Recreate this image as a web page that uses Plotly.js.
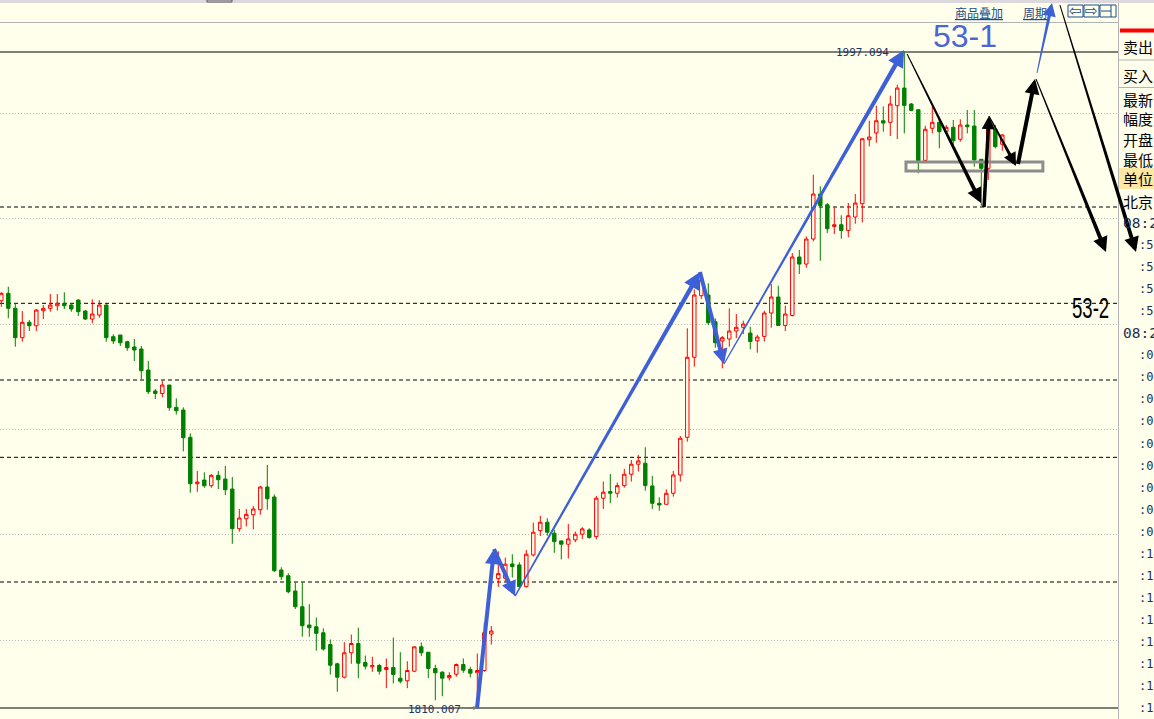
<!DOCTYPE html>
<html><head><meta charset="utf-8">
<script src="https://cdn.plot.ly/plotly-3.0.1.min.js"></script>
<style>html,body{margin:0;padding:0;background:#FFFFEC;overflow:hidden}#chart{width:1154px;height:719px}</style>
</head><body><div id="chart"></div>
<script>
// ---------- DATA ----------
const openP = [1926.16,1928.27,1923.99,1915.61,1920.00,1919.03,1923.31,1923.99,1924.73,1925.42,
1924.93,1926.36,1923.22,1920.94,1922.08,1924.93,1915.90,1916.38,1914.47,1912.96,
1912.39,1906.40,1900.41,1899.70,1902.12,1895.76,1894.99,1887.20,1873.97,1875.02,
1873.40,1876.36,1875.31,1872.46,1861.14,1863.99,1865.13,1866.56,1873.03,1870.18,
1849.36,1847.73,1843.37,1838.89,1833.67,1833.18,1831.47,1828.11,1822.61,1818.79,
1825.75,1828.40,1822.98,1821.76,1822.13,1820.99,1821.56,1818.51,1817.77,1820.50,
1827.46,1825.92,1821.27,1820.22,1818.62,1819.64,1822.41,1820.99,1820.05,1820.70,
1831.10,1846.90,1847.02,1851.09,1850.81,1844.62,1853.67,1860.60,1862.99,1859.86,
1857.66,1856.72,1857.95,1859.57,1860.80,1858.89,1869.84,1871.72,1871.26,1873.43,
1876.68,1879.53,1879.82,1873.34,1868.39,1868.10,1871.24,1876.46,1887.21,1910.03,
1927.59,1927.79,1920.17,1914.67,1915.24,1917.52,1918.57,1916.95,1914.75,1915.98,
1922.65,1927.21,1919.11,1921.96,1938.62,1936.62,1943.75,1956.59,1953.53,1947.35,
1947.83,1946.21,1950.03,1953.82,1972.07,1974.02,1977.49,1977.01,1981.77,1986.82,
1982.26,1980.64,1966.18,1975.33,1977.04,1974.36,1975.62,1972.20,1976.27,1975.99,
1966.49,1963.92,1975.13,1970.78];
const highP = [1928.56,1930.15,1925.42,1923.22,1920.66,1923.79,1924.93,1928.07,1928.07,1928.56,
1925.42,1926.56,1923.51,1926.56,1926.36,1925.13,1916.58,1916.38,1914.75,1915.24,
1913.24,1908.96,1900.98,1903.26,1902.12,1898.32,1895.76,1888.34,1877.59,1877.22,
1876.73,1877.59,1879.02,1875.88,1866.76,1866.76,1867.61,1873.32,1879.30,1870.95,
1850.13,1848.42,1845.85,1845.85,1839.61,1835.81,1832.73,1829.54,1822.90,1828.77,
1830.97,1832.90,1824.98,1824.61,1822.61,1824.13,1830.11,1825.92,1823.36,1827.46,
1828.68,1825.92,1822.33,1820.50,1820.22,1822.70,1824.13,1821.76,1825.55,1834.35,
1833.38,1854.69,1852.90,1853.87,1851.58,1855.09,1862.88,1864.79,1864.13,1860.88,
1857.75,1862.51,1860.31,1861.57,1861.28,1870.49,1874.57,1876.73,1874.29,1878.19,
1880.76,1882.18,1884.38,1876.16,1870.10,1872.38,1877.60,1887.59,1918.30,1929.41,
1932.55,1931.12,1921.14,1916.09,1923.99,1922.37,1920.46,1918.74,1916.46,1923.31,
1930.92,1930.44,1924.73,1939.76,1940.62,1944.49,1962.09,1958.77,1954.02,1952.77,
1950.51,1954.02,1956.59,1972.36,1977.49,1981.77,1981.57,1984.63,1987.76,1997.094,
1982.55,1980.64,1976.07,1981.49,1978.18,1976.27,1977.70,1977.90,1980.55,1980.55,
1966.57,1976.27,1976.27,1973.71];
const lowP = [1924.45,1921.14,1913.04,1914.47,1917.52,1917.52,1920.94,1923.02,1923.31,1923.79,
1923.02,1921.80,1920.66,1919.71,1921.31,1914.47,1913.81,1913.24,1911.90,1908.96,
1903.83,1899.56,1898.13,1898.61,1894.79,1893.71,1883.20,1871.40,1871.69,1872.83,
1872.83,1872.46,1870.72,1856.86,1860.28,1861.79,1860.94,1865.13,1866.56,1848.79,
1846.52,1842.71,1838.24,1830.33,1830.33,1826.37,1826.37,1819.55,1814.63,1818.42,
1822.61,1818.51,1820.99,1820.33,1819.55,1815.67,1817.02,1817.02,1815.67,1820.22,
1824.78,1818.51,1812.20,1813.34,1817.85,1818.93,1820.05,1818.73,1810.007,1820.33,
1828.11,1844.55,1846.06,1847.21,1844.62,1844.34,1853.18,1859.09,1859.17,1854.26,
1852.38,1852.66,1857.29,1858.23,1858.32,1858.15,1866.76,1868.39,1870.01,1872.86,
1874.57,1877.45,1872.00,1866.76,1866.27,1868.10,1870.29,1874.57,1885.96,1907.35,
1926.65,1919.23,1912.76,1906.88,1913.04,1915.52,1916.64,1912.30,1911.33,1914.55,
1918.46,1919.11,1917.51,1921.68,1933.77,1935.58,1943.07,1937.57,1945.46,1945.17,
1943.84,1944.32,1948.11,1948.49,1970.17,1971.22,1974.35,1973.13,1972.28,1973.90,
1980.20,1962.49,1965.89,1973.90,1969.63,1973.99,1970.57,1971.51,1973.90,1964.38,
1953.17,1960.59,1969.63,1968.94];
const closeP = [1928.27,1923.99,1915.61,1920.00,1919.03,1923.51,1923.99,1924.93,1925.42,1924.73,
1923.79,1923.02,1920.94,1922.37,1924.93,1915.61,1914.67,1914.18,1912.76,1912.10,
1906.20,1900.21,1899.70,1902.12,1895.65,1894.79,1887.09,1873.97,1874.45,1873.40,
1876.36,1875.11,1872.26,1861.14,1864.19,1865.24,1866.76,1873.03,1869.69,1849.16,
1847.45,1843.17,1838.89,1833.47,1832.90,1831.30,1826.82,1822.21,1818.79,1825.75,
1828.40,1822.78,1821.93,1822.13,1820.50,1821.56,1819.55,1817.65,1820.70,1827.46,
1825.75,1821.27,1820.05,1818.51,1819.28,1822.41,1820.79,1819.93,1820.70,1831.47,
1831.96,1848.33,1851.01,1850.32,1844.62,1853.87,1860.14,1862.99,1860.14,1857.46,
1856.72,1858.23,1859.57,1861.09,1858.61,1869.84,1871.55,1871.26,1873.43,1876.68,
1879.53,1880.47,1873.43,1868.39,1867.90,1871.24,1876.46,1886.93,1910.03,1927.79,
1932.06,1919.89,1914.19,1915.61,1917.52,1918.57,1919.52,1914.55,1915.81,1922.65,
1927.21,1919.11,1922.36,1938.62,1936.62,1943.75,1956.59,1953.33,1946.69,1947.83,
1946.21,1950.40,1954.02,1972.36,1972.84,1977.49,1976.83,1982.26,1986.82,1981.86,
1980.44,1966.10,1975.05,1977.04,1974.36,1975.62,1971.80,1976.27,1975.79,1966.29,
1963.92,1975.33,1970.09,1973.42];
const idx = openP.map((_, i) => i);

// horizontal reference levels
const dashedLevels = [1952.89, 1925.42, 1903.55, 1881.50, 1845.94];
const gridLevels = [1829.40, 1859.43, 1889.46, 1919.49, 1949.52, 1979.55];

// hand-drawn wave arrows: [tailIndex, tailPrice, headIndex, headPrice, startWidth, endWidth]
const blueWaves = [
  [67.96, 1810.0, 70.39, 1855.35, 4, 4],
  [70.39, 1855.35, 73.39, 1841.94, 4, 4],
  [73.39, 1841.94, 99.81, 1934.35, 1.5, 4.5],
  [99.81, 1934.35, 103.24, 1908.11, 4, 4],
  [103.24, 1908.11, 128.96, 1997.66, 1.2, 4.5],
  [147.96, 1991.10, 150.10, 2011.07, 1, 3.5]
];
const blackWaves = [
  [129.40, 1996.52, 139.96, 1954.03, 1, 4],
  [140.39, 1952.88, 141.10, 1978.84, 3.5, 3.5],
  [141.10, 1978.84, 144.96, 1964.58, 1, 3.5],
  [145.24, 1965.15, 147.67, 1989.39, 4, 4],
  [147.81, 1989.39, 157.81, 1940.05, 1, 4],
  [151.24, 2010.49, 162.10, 1940.05, 1, 4]
];
const boxZone = [129.24, 1965.72, 148.80, 1963.15];

const panelLabels = ['卖出','买入','最新','幅度','开盘','最低','单位','北京'];
const timeLabels = ['08:2',':53',':54',':56',':56','08:2',':00',':00',':00',':01',':02',':03',':04',':05',':07',':11',':11',':11',':12',':13',':13',':14',':15'];
const waveTags = ['53-1', '53-2'];
const topLinks = ['商品叠加', '周期'];

// ---------- LAYOUT HELPERS ----------
const BG = '#FFFFEC';
const W = 1154, H = 719, PW = 1118;
const XR = [-0.186, 159.53];
const YR = [1806.870, 2011.924];
const PX = x => x / PW;
const PY = y => 1 - y / H;
const toPix = (k, p) => [(k - XR[0]) / (XR[1] - XR[0]) * PW, (YR[1] - p) / (YR[1] - YR[0]) * H];

const hi = Math.max(...highP), lo = Math.min(...lowP);
const hiIdx = highP.indexOf(hi), loIdx = lowP.indexOf(lo);

const shapes = [];
const annotations = [];

// top strip
shapes.push({type:'rect', xref:'paper', yref:'paper', x0:0, x1:PX(W), y0:PY(3), y1:1, fillcolor:'#DCD8DC', line:{width:0}, layer:'above'});
shapes.push({type:'rect', xref:'paper', yref:'paper', x0:PX(207), x1:PX(232), y0:PY(2), y1:1, fillcolor:'#E8E4E8', line:{width:1,color:'#555'}, layer:'above'});
// line under toolbar
shapes.push({type:'line', xref:'paper', yref:'paper', x0:0, x1:1, y0:PY(22.5), y1:PY(22.5), line:{color:'#B4B4B4', width:1}, layer:'below'});

// dashed levels
dashedLevels.forEach(v => shapes.push({type:'line', xref:'paper', yref:'y', x0:0, x1:1, y0:v, y1:v, line:{color:'#000', width:1, dash:'4px,3px'}, layer:'below'}));
// high/low lines
[hi, lo].forEach(v => shapes.push({type:'line', xref:'paper', yref:'y', x0:0, x1:1, y0:v, y1:v, line:{color:'#000', width:1}, layer:'below'}));

// consolidation box
shapes.push({type:'rect', xref:'x', yref:'y', x0:boxZone[0], x1:boxZone[2], y0:boxZone[1], y1:boxZone[3], line:{color:'#8C8C8C', width:3}, fillcolor:'rgba(0,0,0,0)', layer:'above'});

// right panel
shapes.push({type:'rect', xref:'paper', yref:'paper', x0:PX(1119), x1:PX(W), y0:0, y1:PY(3), fillcolor:BG, line:{width:0}, layer:'above'});
shapes.push({type:'line', xref:'paper', yref:'paper', x0:PX(1118.5), x1:PX(1118.5), y0:0, y1:PY(3), line:{color:'#B4B4B4', width:1}, layer:'above'});
shapes.push({type:'rect', xref:'paper', yref:'paper', x0:PX(1120), x1:PX(W), y0:PY(32.5), y1:PY(28.5), fillcolor:'#FF0000', line:{width:0}, layer:'above'});
[60, 87.5].forEach(y => shapes.push({type:'line', xref:'paper', yref:'paper', x0:PX(1119), x1:PX(W), y0:PY(y), y1:PY(y), line:{color:'#B4B4B4', width:1}, layer:'above'}));
shapes.push({type:'rect', xref:'paper', yref:'paper', x0:PX(1119), x1:PX(W), y0:PY(189), y1:PY(168), fillcolor:'#FCE8A4', line:{width:0}, layer:'above'});

const rowY = [46.7, 75, 99, 118.3, 139.3, 159.3, 179, 201.7];
panelLabels.forEach((t, i) => annotations.push({xref:'paper', yref:'paper', x:PX(1121), y:PY(rowY[i]), text:t, showarrow:false, xanchor:'left', yanchor:'middle', font:{family:'Noto Sans CJK SC', size:15, color:'#000'}}));
timeLabels.forEach((t, i) => {
  const big = t.startsWith('08');
  annotations.push({xref:'paper', yref:'paper', x:PX(big ? 1121 : 1137), y:PY(223 + i * 22.05), text:t, showarrow:false, xanchor:'left', yanchor:'middle', font:{family:'DejaVu Sans Mono', size: big ? 14.5 : 12, color:'#1A2E5A'}});
});

// toolbar links
annotations.push({xref:'paper', yref:'paper', x:PX(953), y:PY(12), text:'<u>'+topLinks[0]+'</u>', showarrow:false, xanchor:'left', yanchor:'middle', font:{family:'Noto Sans CJK SC', size:12, color:'#1A4D8C'}});
annotations.push({xref:'paper', yref:'paper', x:PX(1021), y:PY(12), text:'<u>'+topLinks[1]+'</u>', showarrow:false, xanchor:'left', yanchor:'middle', font:{family:'Noto Sans CJK SC', size:12, color:'#1A4D8C'}});
// toolbar icons
[[1068,1083,'⇦'],[1084,1099,'⇨'],[1100,1116,'']].forEach(b => {
  shapes.push({type:'rect', xref:'paper', yref:'paper', x0:PX(b[0]), x1:PX(b[1]), y0:PY(17), y1:PY(5), line:{color:'#1A4D8C', width:1}, fillcolor:'rgba(0,0,0,0)', layer:'above'});
  if (b[2]) annotations.push({xref:'paper', yref:'paper', x:PX((b[0]+b[1])/2), y:PY(11), text:b[2], showarrow:false, xanchor:'center', yanchor:'middle', font:{family:'DejaVu Sans', size:15, color:'#1A4D8C'}});
});
shapes.push({type:'line', xref:'paper', yref:'paper', x0:PX(1101), x1:PX(1111), y0:PY(11), y1:PY(11), line:{color:'#1A4D8C', width:1}, layer:'above'});
shapes.push({type:'line', xref:'paper', yref:'paper', x0:PX(1111), x1:PX(1111), y0:PY(17), y1:PY(5), line:{color:'#1A4D8C', width:1}, layer:'above'});

// high / low labels
annotations.push({xref:'x', yref:'y', x:hiIdx, y:hi, text:hi.toFixed(3), showarrow:false, xanchor:'right', yanchor:'middle', xshift:-13, font:{family:'DejaVu Sans Mono', size:11, color:'#1C3664'}});
annotations.push({xref:'x', yref:'y', x:loIdx, y:lo, text:lo.toFixed(3), showarrow:false, xanchor:'right', yanchor:'middle', xshift:-14, yshift:-1, font:{family:'DejaVu Sans Mono', size:11, color:'#1C3664'}});
annotations.push({xref:'x', yref:'y', x:loIdx, y:lo, ax:-12, ay:0, text:'', showarrow:true, arrowhead:2, arrowsize:0.8, arrowwidth:1, arrowcolor:'#777', standoff:0, font:{size:1}});

// wave tags
annotations.push({xref:'paper', yref:'paper', x:PX(931), y:PY(36), text:waveTags[0], showarrow:false, xanchor:'left', yanchor:'middle', font:{family:'Liberation Sans', size:32, color:'#4A66D6'}});
annotations.push({xref:'paper', yref:'paper', x:PX(1070), y:PY(307), text:waveTags[1], showarrow:false, xanchor:'left', yanchor:'middle', font:{family:'Liberation Sans', size:30, color:'#000'}, name:'tag2'});

// tapered arrows: filled polygon body + arrowhead annotation
function addWave(w, color) {
  const [x0, y0, x1, y1, w0, w1] = w;
  const A = toPix(x0, y0), B = toPix(x1, y1);
  const dx = B[0] - A[0], dy = B[1] - A[1], L = Math.hypot(dx, dy);
  const ux = dx / L, uy = dy / L, nx = -uy, ny = ux;
  const headLen = Math.max(7, w1 * 2.4);
  const E = [B[0] - ux * headLen * 0.7, B[1] - uy * headLen * 0.7];
  const pts = [
    [A[0] + nx * w0 / 2, A[1] + ny * w0 / 2],
    [E[0] + nx * w1 / 2, E[1] + ny * w1 / 2],
    [E[0] - nx * w1 / 2, E[1] - ny * w1 / 2],
    [A[0] - nx * w0 / 2, A[1] - ny * w0 / 2]
  ];
  const path = 'M' + pts.map(p => PX(p[0]).toFixed(6) + ',' + PY(p[1]).toFixed(6)).join('L') + 'Z';
  shapes.push({type:'path', xref:'paper', yref:'paper', path, fillcolor:color, line:{width:0}, layer:'above'});
  const back = headLen * 1.3;
  annotations.push({xref:'paper', yref:'paper', x:PX(B[0]), y:PY(B[1]), ax:-ux * back, ay:-uy * back,
    text:'', showarrow:true, arrowhead:2, arrowsize:0.75, arrowwidth:w1, arrowcolor:color, standoff:0, startstandoff:0, font:{size:1}});
}
blueWaves.forEach(w => addWave(w, '#3D5FD8'));
blackWaves.forEach(w => addWave(w, '#000000'));

// partially visible bottom-right caption
annotations.push({xref:'paper', yref:'paper', x:PX(1038), y:PY(724), text:'12/23 11:05', showarrow:false, xanchor:'left', yanchor:'middle', font:{family:'DejaVu Sans Mono', size:11, color:'#1C3664'}});

const trace = {
  type:'candlestick', x: idx, open: openP, high: highP, low: lowP, close: closeP,
  increasing:{line:{color:'#FF0000', width:1}, fillcolor: BG},
  decreasing:{line:{color:'#008000', width:1}, fillcolor:'#008000'},
  whiskerwidth:0, hoverinfo:'none', showlegend:false
};

const layout = {
  width: W, height: H,
  margin:{l:0, r:W - PW, t:0, b:0, pad:0},
  paper_bgcolor: BG, plot_bgcolor: BG,
  showlegend:false, hovermode:false, dragmode:false,
  xaxis:{range: XR, showgrid:false, zeroline:false, showticklabels:false, showline:false, ticks:'', rangeslider:{visible:false}, fixedrange:true},
  yaxis:{range: YR, tickmode:'array', tickvals: gridLevels, showgrid:true, gridcolor:'#B8B8B8', griddash:'1px,2px', gridwidth:1, zeroline:false, showticklabels:false, showline:false, ticks:'', fixedrange:true},
  shapes, annotations
};
Plotly.newPlot('chart', [trace], layout, {staticPlot:true, displayModeBar:false}).then(gd => {
  // the hand-written "53-2" tag is drawn in a condensed style
  gd.querySelectorAll('.annotation-text').forEach(t => {
    if (t.textContent === waveTags[1]) {
      t.style.transformBox = 'fill-box';
      t.style.transformOrigin = 'left center';
      t.style.transform = 'scaleX(0.62)';
    }
  });
});
</script></body></html>
